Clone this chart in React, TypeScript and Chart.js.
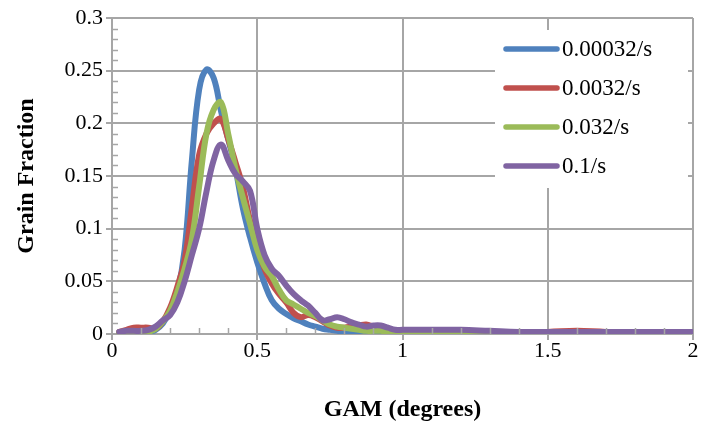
import React, { useEffect, useRef } from "react";
import { Chart, registerables } from "chart.js";

Chart.register(...registerables);

const gam = [
  0.025, 0.05, 0.075, 0.1, 0.125, 0.15, 0.175, 0.2, 0.225, 0.25,
  0.275, 0.3, 0.325, 0.35, 0.375, 0.4, 0.425, 0.45, 0.475, 0.5,
  0.525, 0.55, 0.575, 0.6, 0.625, 0.65, 0.675, 0.7, 0.725, 0.75,
  0.775, 0.8, 0.825, 0.85, 0.875, 0.9, 0.925, 0.95, 0.975, 1.0,
  1.1, 1.2, 1.3, 1.4, 1.5, 1.6, 1.7, 1.8, 1.9, 2.0,
];

const rate00032 = [
  0.002, 0.002, 0.002, 0.002, 0.002, 0.004, 0.01, 0.022, 0.04, 0.08,
  0.165, 0.232, 0.251, 0.243, 0.212, 0.185, 0.157, 0.12, 0.092, 0.068,
  0.048, 0.032, 0.024, 0.019, 0.015, 0.012, 0.009, 0.007, 0.005, 0.004,
  0.003, 0.002, 0.002, 0.001, 0.001, 0.001, 0.001, 0.001, 0.001, 0.001,
  0.001, 0.001, 0.001, 0.002, 0.001, 0.001, 0.001, 0.001, 0.001, 0.001,
];

const rate0032 = [
  0.002, 0.004, 0.006, 0.006, 0.006, 0.005, 0.012, 0.025, 0.045, 0.07,
  0.12, 0.17, 0.19, 0.2, 0.204, 0.185, 0.163, 0.14, 0.108, 0.085,
  0.062, 0.048, 0.038, 0.03, 0.02, 0.016, 0.018, 0.016, 0.012, 0.008,
  0.006, 0.006, 0.007, 0.008, 0.009, 0.007, 0.005, 0.003, 0.003, 0.003,
  0.002, 0.003, 0.002, 0.002, 0.002, 0.003, 0.002, 0.002, 0.002, 0.002,
];

const rate032 = [
  0.001, 0.001, 0.001, 0.001, 0.002, 0.005, 0.012, 0.022, 0.04, 0.062,
  0.09, 0.14, 0.19, 0.213, 0.22, 0.19, 0.157, 0.13, 0.105, 0.08,
  0.064, 0.055, 0.042, 0.032, 0.028, 0.024, 0.02, 0.017, 0.013, 0.009,
  0.007, 0.006, 0.005, 0.004, 0.003, 0.003, 0.003, 0.002, 0.002, 0.002,
  0.002, 0.001, 0.001, 0.001, 0.001, 0.001, 0.001, 0.001, 0.002, 0.001,
];

const rate1 = [
  0.002, 0.003, 0.003, 0.003, 0.004, 0.007, 0.013, 0.018, 0.03, 0.05,
  0.075, 0.1, 0.135, 0.165, 0.18, 0.165, 0.152, 0.145, 0.136, 0.1,
  0.075, 0.062, 0.055, 0.046, 0.038, 0.032, 0.027, 0.02, 0.013, 0.014,
  0.016, 0.014, 0.011, 0.009, 0.007, 0.008, 0.008, 0.006, 0.004, 0.004,
  0.004, 0.004, 0.003, 0.002, 0.002, 0.002, 0.002, 0.002, 0.002, 0.002,
];

const seriesLabels = ["0.00032/s", "0.0032/s", "0.032/s", "0.1/s"];
const seriesColors = ["#4f81bd", "#c0504d", "#9bbb59", "#8064a2"];
const seriesValues = [rate00032, rate0032, rate032, rate1];

const xTitle = "GAM (degrees)";
const yTitle = "Grain Fraction";

const FONT = "'Liberation Serif', 'Times New Roman', serif";
const GRID = "#a6a6a6";

const minorTicks = {
  id: "minorTicks",
  afterDraw(chart: any) {
    const { ctx, chartArea, scales } = chart;
    const xs = scales.x;
    const ys = scales.y;
    ctx.save();
    ctx.strokeStyle = GRID;
    ctx.lineWidth = 1.5;
    ctx.beginPath();
    for (let i = 1; i < 20; i++) {
      if (i % 5 === 0) continue;
      const px = Math.round(xs.getPixelForValue(i / 10)) + 0.5;
      ctx.moveTo(px, chartArea.bottom);
      ctx.lineTo(px, chartArea.bottom - 6);
    }
    for (let i = 1; i < 30; i++) {
      if (i % 5 === 0) continue;
      const py = Math.round(ys.getPixelForValue(i / 100)) + 0.5;
      ctx.moveTo(chartArea.left, py);
      ctx.lineTo(chartArea.left + 6, py);
    }
    ctx.stroke();
    ctx.restore();
  },
};

const boxLegend = {
  id: "boxLegend",
  afterDatasetsDraw(chart: any) {
    const { ctx } = chart;
    const left = 495;
    const top = 30;
    ctx.save();
    ctx.fillStyle = "#ffffff";
    ctx.fillRect(left, top, 193, 158);
    ctx.font = `23px ${FONT}`;
    ctx.textBaseline = "middle";
    ctx.textAlign = "left";
    seriesLabels.forEach((lab, i) => {
      const y = 49 + i * 39;
      ctx.strokeStyle = seriesColors[i];
      ctx.lineWidth = 5.5;
      ctx.lineCap = "round";
      ctx.beginPath();
      ctx.moveTo(506, y);
      ctx.lineTo(557, y);
      ctx.stroke();
      ctx.fillStyle = "#000000";
      ctx.fillText(lab, 562, y + 1);
    });
    ctx.restore();
  },
};

export default function App() {
  const ref = useRef<HTMLCanvasElement>(null);

  useEffect(() => {
    if (!ref.current) return;
    const datasets = seriesLabels.map((lab, i) => ({
      label: lab,
      data: gam.map((g, j) => ({ x: g, y: seriesValues[i][j] })),
      borderColor: seriesColors[i],
      backgroundColor: seriesColors[i],
      borderWidth: 6,
      pointRadius: 0,
      tension: 0.4,
      fill: false,
      order: 4 - i,
      borderCapStyle: "round" as const,
      borderJoinStyle: "round" as const,
    }));

    const chart = new Chart(ref.current, {
      type: "line",
      data: { datasets },
      options: {
        animation: false,
        responsive: false,
        maintainAspectRatio: false,
        layout: { padding: { top: 18, right: 8, left: 0, bottom: 0 } },
        plugins: {
          legend: { display: false },
          tooltip: { enabled: false },
        },
        scales: {
          x: {
            type: "linear",
            min: 0,
            max: 2,
            afterFit: (s: any) => {
              s.height = 90;
            },
            ticks: {
              stepSize: 0.5,
              color: "#000",
              font: { family: FONT, size: 22 },
              padding: -2,
              maxRotation: 0,
              autoSkip: false,
              callback: (v: any) => String(Number(Number(v).toFixed(2))),
            },
            grid: {
              color: GRID,
              lineWidth: 2,
              drawTicks: true,
              tickLength: 6,
              tickColor: GRID,
            },
            border: { color: GRID, width: 2 },
            title: {
              display: true,
              text: xTitle,
              color: "#000",
              font: { family: FONT, size: 24, weight: "bold" },
              padding: { top: 12, bottom: 0 },
            },
          },
          y: {
            type: "linear",
            min: 0,
            max: 0.3,
            afterFit: (s: any) => {
              s.width = 112;
            },
            ticks: {
              stepSize: 0.05,
              color: "#000",
              font: { family: FONT, size: 22 },
              padding: 3,
              autoSkip: false,
              callback: (v: any) => String(Number(Number(v).toFixed(2))),
            },
            grid: {
              color: GRID,
              lineWidth: 2,
              drawTicks: true,
              tickLength: 6,
              tickColor: GRID,
            },
            border: { color: GRID, width: 2 },
            title: {
              display: true,
              text: yTitle,
              color: "#000",
              font: { family: FONT, size: 24, weight: "bold" },
              padding: { top: 12, bottom: 0 },
            },
          },
        },
      },
      plugins: [minorTicks, boxLegend],
    });
    return () => chart.destroy();
  }, []);

  return (
    <div style={{ position: "fixed", left: 0, top: 0, width: 701, height: 424, background: "#fff" }}>
      <canvas ref={ref} width={701} height={424} style={{ width: 701, height: 424, display: "block" }} />
    </div>
  );
}
